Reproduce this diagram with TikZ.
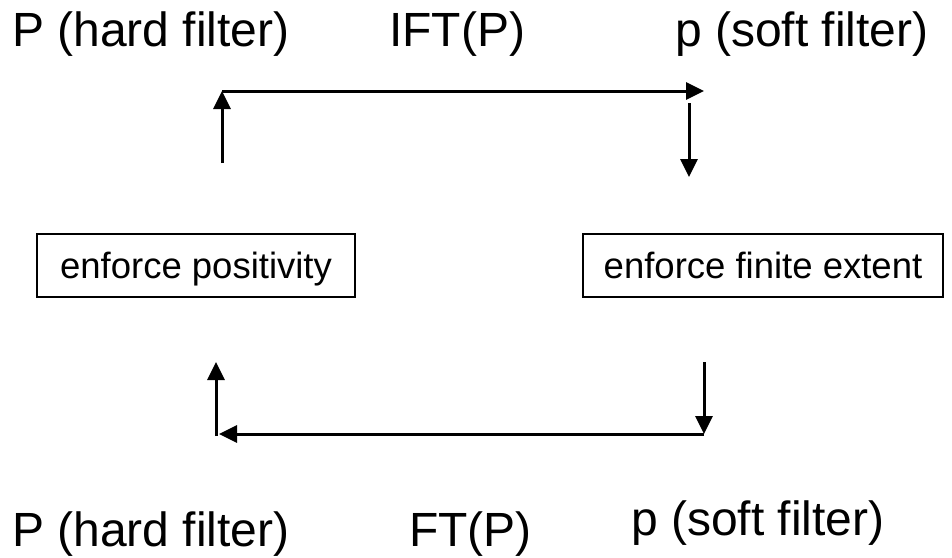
\documentclass[tikz,border=0pt]{standalone}
\usepackage{fontspec}
\setmainfont{Liberation Sans}
\usetikzlibrary{arrows.meta}
\begin{document}
\begin{tikzpicture}[x=1pt,y=-1pt,
  label/.style={anchor=base west,inner sep=0pt,font=\fontsize{48}{56}\selectfont},
  stepbox/.style={draw,line width=1.7pt,inner sep=0pt,text height=31pt,text depth=5pt,
    font=\fontsize{36.5}{42}\selectfont},
  flow/.style={line width=3pt,-{Triangle[length=18pt,width=17pt]}}]
\useasboundingbox (0,0) rectangle (952,557);
% top row labels
\node[label] (Ptop) at (12,46) {P (hard filter)};
\node[label] (ift) at (389,46) {IFT(P)};
\node[label] (ptop) at (675,46) {p (soft filter)};
% bottom row labels
\node[label] (Pbot) at (12,546) {P (hard filter)};
\node[label] (ft) at (409,546) {FT(P)};
\node[label] (pbot) at (631,535) {p (soft filter)};
% constraint boxes
\node[stepbox,minimum width=318pt,minimum height=63pt] (pos) at (196,265.5) {enforce positivity};
\node[stepbox,minimum width=360pt,minimum height=63pt] (fin) at (763,265.5) {enforce finite extent};
% loop corners
\coordinate (a1) at (222,163);
\coordinate (a2) at (222,91);
\coordinate (a3) at (704,91);
\coordinate (b1) at (689,103);
\coordinate (b2) at (689,177);
\coordinate (c1) at (704,362);
\coordinate (c2) at (704,434);
\coordinate (c3) at (219,434);
\coordinate (d1) at (216,436);
\coordinate (d2) at (216,362);
% arrows
\draw[flow] (a1) -- (a2);
\draw[flow] (a2) -- (a3);
\draw[flow] (b1) -- (b2);
\draw[flow] (c1) -- (c2);
\draw[flow] (c2) -- (c3);
\draw[flow] (d1) -- (d2);
\end{tikzpicture}
\end{document}
